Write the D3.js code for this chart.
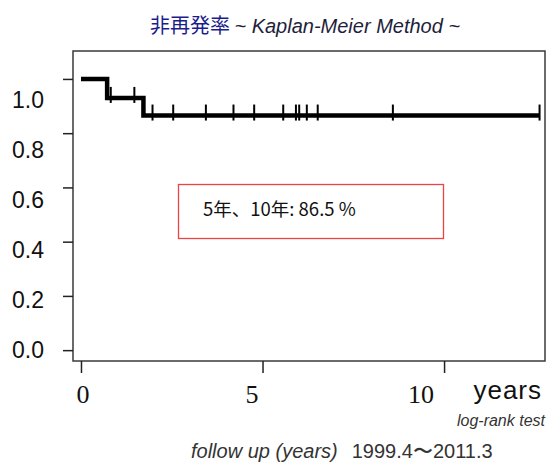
<!DOCTYPE html>
<html>
<head>
<meta charset="utf-8">
<script src="https://cdn.jsdelivr.net/npm/d3@7"></script>
<style>
  body { margin: 0; background: #fff; }
  svg { display: block; }
</style>
</head>
<body>
<svg id="chart" width="547" height="464"></svg>
<script>
// Kaplan-Meier curve: step points (years, survival)
const stepTimes = [0, 0.72, 1.72, 12.63];
const stepValues = [1.0, 0.93, 0.865, 0.865];

// censored observations (years)
const censorTimes = [0.82, 1.47, 1.97, 2.54, 3.44, 4.2, 4.77, 5.57, 5.92, 6.01, 6.22, 6.52, 8.59, 12.63];

const yTicks = [0, 0.2, 0.4, 0.6, 0.8, 1.0];
const yTickLabels = ["0.0", "0.2", "0.4", "0.6", "0.8", "1.0"];
const xTicks = [0, 5, 10];
const xTickLabels = ["0", "5", "10"];

const svg = d3.select("#chart");

// plot box scales
const x = d3.scaleLinear().domain([-0.22, 12.78]).range([73, 545]);
const y = d3.scaleLinear().domain([-0.04, 1.103]).range([361, 51]);

// labels in the picture sit a little off their ticks
const yLabel = d3.scaleLinear().domain([0, 1]).range([350, 100]);
const xLabel = d3.scaleLinear().domain([0, 10]).range([83, 421]);

// Title
const title = svg.append("text")
    .attr("x", 305)
    .attr("y", 33)
    .attr("text-anchor", "middle")
    .style("font-family", "'Liberation Sans', Arial, sans-serif")
    .style("font-size", "20px");
title.append("tspan")
    .attr("fill", "#1c1c8c")
    .style("font-family", "'Noto Sans CJK JP', sans-serif")
    .text("非再発率 ");
title.append("tspan")
    .attr("fill", "#1e1e3c")
    .style("font-style", "italic")
    .text("~ Kaplan-Meier Method ~");

// Box
svg.append("rect")
    .attr("x", x(-0.22))
    .attr("y", y(1.103))
    .attr("width", x(12.78) - x(-0.22))
    .attr("height", y(-0.04) - y(1.103))
    .attr("fill", "none")
    .attr("stroke", "#3a3a3a")
    .attr("stroke-width", 1.5);

// Y ticks
const yAxis = svg.append("g")
    .attr("transform", `translate(${x(-0.22)},0)`)
    .call(d3.axisLeft(y).tickValues(yTicks).tickSize(10).tickFormat(""));
yAxis.select(".domain").remove();
yAxis.selectAll("line").attr("stroke", "#222").attr("stroke-width", 1.5);

svg.append("g").selectAll("text")
    .data(yTicks)
    .join("text")
    .attr("x", 44)
    .attr("y", d => yLabel(d))
    .attr("dy", "0.36em")
    .attr("text-anchor", "end")
    .style("font-family", "'Liberation Sans', Arial, sans-serif")
    .style("font-size", "23px")
    .attr("fill", "#111")
    .text((d, i) => yTickLabels[i]);

// X ticks
const xAxis = svg.append("g")
    .attr("transform", `translate(0,${y(-0.04)})`)
    .call(d3.axisBottom(x).tickValues(xTicks).tickSize(12).tickFormat(""));
xAxis.select(".domain").remove();
xAxis.selectAll("line").attr("stroke", "#222").attr("stroke-width", 1.5);

svg.append("g").selectAll("text")
    .data(xTicks)
    .join("text")
    .attr("x", d => xLabel(d))
    .attr("y", 403)
    .attr("text-anchor", "middle")
    .style("font-family", "'Liberation Serif', 'Times New Roman', serif")
    .style("font-size", "26px")
    .attr("fill", "#111")
    .text((d, i) => xTickLabels[i]);

svg.append("text")
    .attr("x", 542)
    .attr("y", 399)
    .attr("text-anchor", "end")
    .style("font-family", "'Liberation Sans', Arial, sans-serif")
    .style("font-size", "26px")
    .style("letter-spacing", "1px")
    .attr("fill", "#111")
    .text("years");

// KM step line
const line = d3.line()
    .x((d, i) => x(stepTimes[i]))
    .y(d => y(d))
    .curve(d3.curveStepAfter);

svg.append("path")
    .datum(stepValues)
    .attr("fill", "none")
    .attr("stroke", "#000")
    .attr("stroke-width", 4.5)
    .attr("d", line);

// censor marks
function survivalAt(t) {
    let s = stepValues[0];
    stepTimes.forEach((st, i) => { if (st <= t) s = stepValues[i]; });
    return s;
}

svg.append("g").selectAll("line")
    .data(censorTimes)
    .join("line")
    .attr("x1", d => x(d))
    .attr("x2", d => x(d))
    .attr("y1", d => y(survivalAt(d)) - 11)
    .attr("y2", d => y(survivalAt(d)) + 5)
    .attr("stroke", "#000")
    .attr("stroke-width", 2);

// annotation box
svg.append("rect")
    .attr("x", 178.5)
    .attr("y", 184.5)
    .attr("width", 265)
    .attr("height", 54)
    .attr("fill", "none")
    .attr("stroke", "#ec4444")
    .attr("stroke-width", 1.3);

svg.append("text")
    .attr("x", 203)
    .attr("y", 216)
    .style("font-family", "'Noto Sans CJK JP', sans-serif")
    .style("font-size", "18.5px")
    .attr("fill", "#111")
    .text("5年、10年: 86.5 %");

// footer
svg.append("text")
    .attr("x", 545)
    .attr("y", 426)
    .attr("text-anchor", "end")
    .style("font-family", "'Liberation Sans', Arial, sans-serif")
    .style("font-size", "16px")
    .style("font-style", "italic")
    .attr("fill", "#333")
    .text("log-rank test");

const foot = svg.append("text")
    .attr("x", 191)
    .attr("y", 458)
    .style("font-family", "'Liberation Sans', Arial, sans-serif")
    .style("font-size", "20px")
    .attr("fill", "#333");
foot.append("tspan")
    .style("font-style", "italic")
    .text("follow up (years)");
foot.append("tspan")
    .attr("dx", 14)
    .text("1999.4〜2011.3");
</script>
</body>
</html>
